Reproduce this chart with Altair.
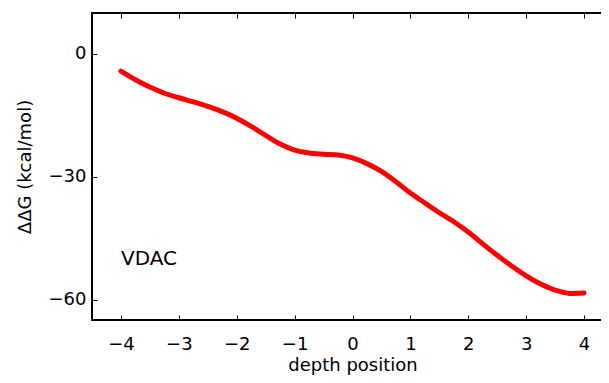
import altair as alt
import pandas as pd

depth = [-4.0, -3.75, -3.5, -3.25, -3.0, -2.75, -2.5, -2.25, -2.0, -1.75, -1.5, -1.25,
         -1.0, -0.75, -0.5, -0.25, 0.0, 0.25, 0.5, 0.75, 1.0, 1.25, 1.5, 1.75, 2.0,
         2.25, 2.5, 2.75, 3.0, 3.25, 3.5, 3.75, 4.0]
ddg = [-4.2, -6.3, -8.1, -9.6, -10.7, -11.7, -12.8, -14.1, -15.7, -17.7, -19.9, -22.0,
       -23.5, -24.2, -24.5, -24.7, -25.4, -26.8, -28.7, -31.2, -34.0, -36.4, -38.8, -41.0,
       -43.5, -46.4, -49.2, -51.8, -54.2, -56.2, -57.7, -58.5, -58.4]

label_x = [-4.0]
label_y = [-50.0]
label_text = ["VDAC"]

x_ticks = [-4, -3, -2, -1, 0, 1, 2, 3, 4]
y_ticks = [-60, -30, 0]

df = pd.DataFrame({"depth": depth, "ddg": ddg})
tdf = pd.DataFrame({"x": label_x, "y": label_y, "label": label_text})

FONT = "DejaVu Sans"
xscale = alt.Scale(domain=[-4.5, 4.5], nice=False, zero=False)
yscale = alt.Scale(domain=[-65, 10], nice=False, zero=False)

bottom_axis = alt.Axis(orient="bottom", values=x_ticks, offset=-5, tickSize=5, domain=False,
                       grid=False, labelPadding=15, title="depth position", titlePadding=3)
left_axis = alt.Axis(orient="left", values=y_ticks, offset=-5, tickSize=5, domain=False,
                     grid=False, labelPadding=6, title="ΔΔG (kcal/mol)", titlePadding=14)
top_axis = alt.Axis(orient="top", values=x_ticks, offset=-5, tickSize=5, domain=False,
                    grid=False, labels=False, title=None)
right_axis = alt.Axis(orient="right", values=y_ticks, offset=-5, tickSize=5, domain=False,
                      grid=False, labels=False, title=None)

line = alt.Chart(df).mark_line(color="#ff0000", strokeWidth=5, strokeCap="round",
                               interpolate="monotone").encode(
    x=alt.X("depth:Q", scale=xscale, axis=bottom_axis),
    y=alt.Y("ddg:Q", scale=yscale, axis=left_axis),
)

text = alt.Chart(tdf).mark_text(align="left", baseline="middle", fontSize=20, font=FONT,
                                color="black").encode(
    x=alt.X("x:Q", scale=xscale, axis=top_axis),
    y=alt.Y("y:Q", scale=yscale, axis=right_axis),
    text="label:N",
)

chart = alt.layer(line, text).resolve_axis(x="independent", y="independent").properties(
    width=521, height=307,
    padding={"left": 84, "top": 5, "right": -12, "bottom": 55},
    autosize=alt.AutoSizeParams(type="none"),
).configure_view(stroke="black", strokeWidth=2).configure_axis(
    labelFont=FONT, labelFontSize=18, labelColor="black",
    titleFont=FONT, titleFontSize=18, titleColor="black", titleFontWeight="normal",
    tickColor="black", tickWidth=1,
)

chart.save("out.html", embed_options={"renderer": "svg", "actions": False})
